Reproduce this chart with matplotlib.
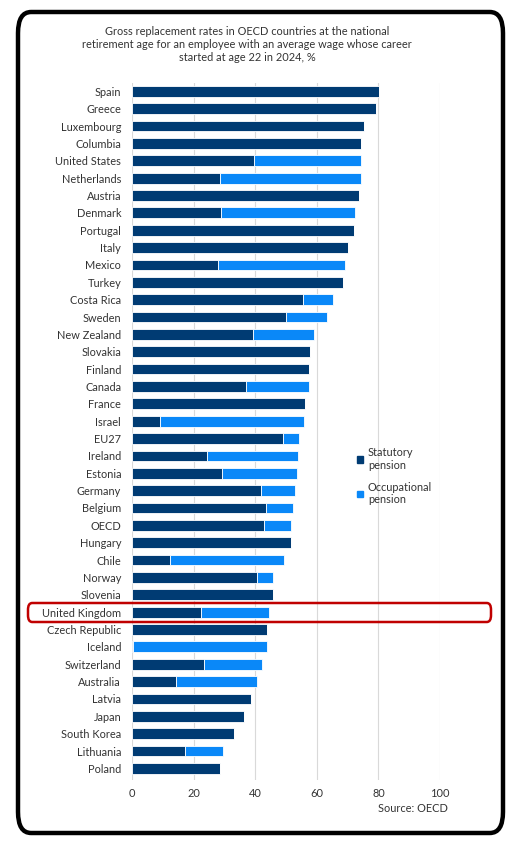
import numpy as np
import matplotlib.pyplot as plt
from matplotlib.patches import FancyBboxPatch, Patch

countries = ['Spain', 'Greece', 'Luxembourg', 'Columbia', 'United States', 'Netherlands',
             'Austria', 'Denmark', 'Portugal', 'Italy', 'Mexico', 'Turkey', 'Costa Rica',
             'Sweden', 'New Zealand', 'Slovakia', 'Finland', 'Canada', 'France', 'Israel',
             'EU27', 'Ireland', 'Estonia', 'Germany', 'Belgium', 'OECD', 'Hungary', 'Chile',
             'Norway', 'Slovenia', 'United Kingdom', 'Czech Republic', 'Iceland',
             'Switzerland', 'Australia', 'Latvia', 'Japan', 'South Korea', 'Lithuania', 'Poland']
statutory = [80.1, 79.2, 75.3, 74.3, 39.5, 28.5, 73.7, 28.8, 72.0, 70.2, 28.0, 68.6, 55.4,
             49.9, 39.3, 57.6, 57.4, 36.9, 56.2, 8.9, 49.1, 24.2, 29.1, 41.9, 43.3, 42.8,
             51.5, 12.2, 40.4, 45.6, 22.2, 43.9, 0.3, 23.3, 14.3, 38.5, 36.2, 33.2, 17.2, 28.4]
occupational = [0, 0, 0, 0, 34.8, 45.7, 0, 43.6, 0, 0, 41.1, 0, 9.9,
                13.5, 19.9, 0, 0, 20.4, 0, 46.9, 5.0, 29.5, 24.3, 11.1, 8.9, 8.9,
                0, 37.2, 5.4, 0, 22.2, 0, 43.4, 19.0, 26.2, 0, 0, 0, 12.2, 0]
xticks = [0, 20, 40, 60, 80, 100]

dark = '#003B73'
light = '#0A88F8'
txt = '#333333'
fs = 7.9

plt.rcParams['font.family'] = ['Lato', 'DejaVu Sans']

W, H = 526, 844
fig = plt.figure(figsize=(W / 100, H / 100), dpi=100)
ax = fig.add_axes([132.3 / W, 1 - 780 / H, (440 - 132.3) / W, 697 / H])

y = np.arange(len(countries))
ax.barh(y, statutory, height=0.62, color=dark, edgecolor='white', linewidth=0.6,
        label='Statutory\npension', zorder=3)
ax.barh(y, occupational, left=statutory, height=0.62, color=light, edgecolor='white',
        linewidth=0.6, label='Occupational\npension', zorder=3)

ax.set_xlim(0, 100)
ax.set_ylim(39.67, -0.48)
ax.set_yticks(y)
ax.set_yticklabels(countries, fontsize=fs, color=txt)
ax.set_xticks(xticks)
ax.set_xticklabels([str(v) for v in xticks], fontsize=fs, color=txt)
ax.tick_params(length=0, pad=6)
ax.tick_params(axis='y', pad=8)
ax.xaxis.grid(True, color='#d9d9d9', linewidth=0.8, zorder=0)
for s in ax.spines.values():
    s.set_visible(False)

handles = [Patch(color=dark), Patch(color=light)]
fig.legend(handles, ['Statutory\npension', 'Occupational\npension'],
           loc='upper left', bbox_to_anchor=(347 / W, 1 - 437 / H),
           frameon=False, fontsize=fs, handlelength=0.55, handleheight=0.55,
           handletextpad=0.45, labelspacing=1.0, labelcolor=txt)

fig.text(247 / W, 1 - 26 / H,
         'Gross replacement rates in OECD countries at the national\n'
         'retirement age for an employee with an average wage whose career\n'
         'started at age 22 in 2024, %',
         ha='center', va='top', fontsize=fs, color=txt, linespacing=1.2)
fig.text(448 / W, 1 - 808 / H, 'Source: OECD', ha='right', va='center',
         fontsize=fs, color=txt)

# outer frame
fig.patches.append(FancyBboxPatch((18 / W, 1 - 833 / H), 485 / W, 821 / H,
                                  boxstyle='round,pad=0,rounding_size=0.025',
                                  transform=fig.transFigure, fill=False,
                                  edgecolor='black', linewidth=3.2))
# highlight box around the United Kingdom
fig.patches.append(FancyBboxPatch((28 / W, 1 - 622 / H), 463 / W, 19 / H,
                                  boxstyle='round,pad=0,rounding_size=0.008',
                                  transform=fig.transFigure, fill=False,
                                  edgecolor='#C00000', linewidth=1.8, zorder=5))

fig.savefig('out.png', dpi=100)
